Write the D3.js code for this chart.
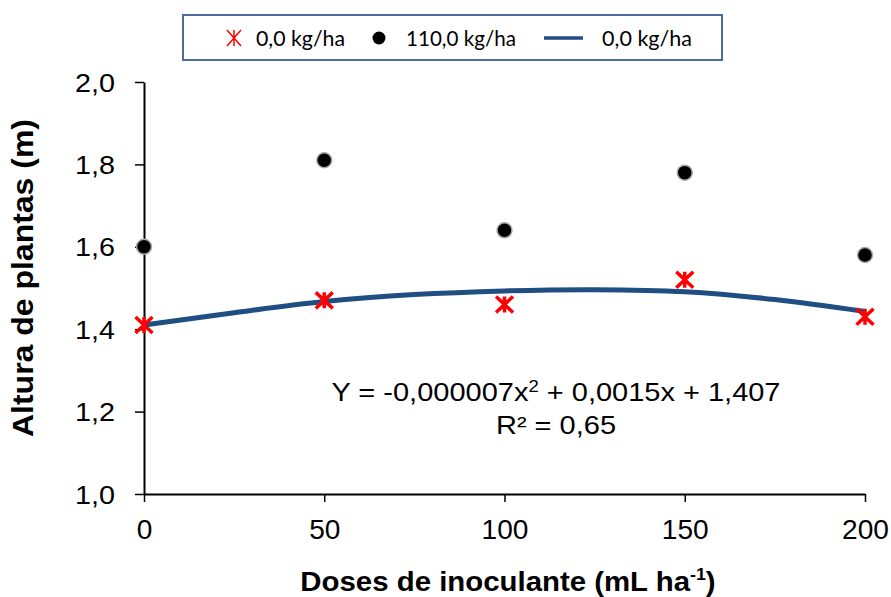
<!DOCTYPE html>
<html><head><meta charset="utf-8">
<script src="https://cdn.jsdelivr.net/npm/d3@7"></script>
<style>body{margin:0;background:#fff}svg{display:block}</style>
</head><body>
<svg id="c" width="891" height="597"></svg>
<script>
const doses = [0, 50, 100, 150, 200];
const series0 = [1.41, 1.47, 1.46, 1.52, 1.43];      // 0,0 kg/ha
const series110 = [1.60, 1.81, 1.64, 1.78, 1.58];    // 110,0 kg/ha
const trendX = [0, 25, 50, 75, 100, 125, 150, 175, 200];
const trendY = [1.410, 1.440, 1.467, 1.484, 1.493, 1.496, 1.491, 1.472, 1.443];
const yTicks = [1.0, 1.2, 1.4, 1.6, 1.8, 2.0];
const xTicks = [0, 50, 100, 150, 200];
const legendLabels = ["0,0 kg/ha", "110,0 kg/ha", "0,0 kg/ha"];

const svg = d3.select("#c");
const x = d3.scaleLinear().domain([0, 200]).range([144, 865]);
const y = d3.scaleLinear().domain([1.0, 2.0]).range([494, 82]);
const fmt = d => d.toFixed(1).replace(".", ",");
const af = "'Liberation Sans', Arial, sans-serif";

// axes
const gy = svg.append("g").attr("transform", "translate(144,0)")
  .call(d3.axisLeft(y).tickValues(yTicks).tickFormat(fmt).tickSize(9).tickSizeOuter(0));
const gx = svg.append("g").attr("transform", "translate(0,494)")
  .call(d3.axisBottom(x).tickValues(xTicks).tickFormat(d3.format("d")).tickSize(8).tickSizeOuter(0));
[gy, gx].forEach(g => {
  g.select(".domain").attr("stroke", "#000").attr("stroke-width", 2);
  g.selectAll(".tick line").attr("stroke", "#000").attr("stroke-width", 1.5);
  g.selectAll(".tick text").attr("fill", "#000").style("font-family", af);
});
gy.selectAll(".tick text").attr("x", 0).attr("dy", 0).style("font-size", "25px")
  .attr("transform", "translate(-29,9) scale(1.15,1)");
gx.selectAll(".tick text").attr("y", 0).attr("dy", 0).style("font-size", "27px")
  .attr("transform", "translate(0,45) scale(1.04,1)");

// axis titles
svg.append("text").attr("transform", "translate(33,278) rotate(-90)").attr("text-anchor", "middle")
  .style("font-family", af).style("font-size", "29px").style("font-weight", "bold")
  .attr("textLength", 318).attr("lengthAdjust", "spacingAndGlyphs")
  .text("Altura de plantas (m)");
const xt = svg.append("g").attr("transform", "translate(508,591) scale(1.05,1)")
  .append("text").attr("x", 0).attr("y", 0).attr("text-anchor", "middle")
  .style("font-family", af).style("font-size", "28px").style("font-weight", "bold");
xt.append("tspan").text("Doses de inoculante (mL ha");
xt.append("tspan").attr("dy", -11).style("font-size", "17px").text("-1");
xt.append("tspan").attr("dy", 11).text(")");

// trend line
svg.append("path").datum(trendX.map((d, i) => [d, trendY[i]]))
  .attr("fill", "none").attr("stroke", "#1f4e82").attr("stroke-width", 5)
  .attr("d", d3.line().x(d => x(d[0])).y(d => y(d[1])).curve(d3.curveCatmullRom));

// black dots
svg.append("g").selectAll("circle").data(doses).join("circle")
  .attr("cx", d => x(d)).attr("cy", (d, i) => y(series110[i])).attr("r", 7.5)
  .attr("fill", "#000").attr("stroke", "#aaa").attr("stroke-width", 1.5);

// red stars
function star(g, cx, cy, w, h, sw) {
  g.append("path").attr("d", `M${cx},${cy - h}L${cx},${cy + h}M${cx - w},${cy - h}L${cx + w},${cy + h}M${cx - w},${cy + h}L${cx + w},${cy - h}`)
    .attr("stroke", "#ff0000").attr("stroke-width", sw).attr("fill", "none");
}
const gs = svg.append("g");
doses.forEach((d, i) => star(gs, x(d), y(series0[i]), 8.5, 8, 3.5));

// legend
svg.append("rect").attr("x", 183).attr("y", 15).attr("width", 539).attr("height", 45)
  .attr("fill", "#fff").attr("stroke", "#4a6b9c").attr("stroke-width", 2);
const lf = "Lato, 'Open Sans', sans-serif";
const lg = svg.append("g");
star(lg, 234, 38, 7, 8, 1.5);
function ltext(xp, w, t) {
  lg.append("text").attr("x", xp).attr("y", 46).style("font-family", lf).style("font-size", "21px")
    .attr("fill", "#000").attr("textLength", w).attr("lengthAdjust", "spacingAndGlyphs").text(t);
}
ltext(256, 89, legendLabels[0]);
lg.append("circle").attr("cx", 379).attr("cy", 38).attr("r", 6.5).attr("fill", "#000");
ltext(406, 110, legendLabels[1]);
lg.append("line").attr("x1", 544).attr("x2", 583).attr("y1", 38).attr("y2", 38).attr("stroke", "#1f4e82").attr("stroke-width", 3.5);
ltext(602, 90, legendLabels[2]);

// equation
const eg = svg.append("g").attr("transform", "translate(556,401) scale(1.16,1)");
const eq = eg.append("text").attr("x", 0).attr("y", 0).attr("text-anchor", "middle")
  .style("font-family", af).style("font-size", "25px").attr("fill", "#000");
eq.append("tspan").text("Y = -0,000007x");
eq.append("tspan").attr("dy", -9).style("font-size", "16px").text("2");
eq.append("tspan").attr("dy", 9).text(" + 0,0015x + 1,407");
svg.append("g").attr("transform", "translate(556,434) scale(1.16,1)")
  .append("text").attr("text-anchor", "middle")
  .style("font-family", af).style("font-size", "25px").attr("fill", "#000").text("R² = 0,65");
</script>
</body></html>
